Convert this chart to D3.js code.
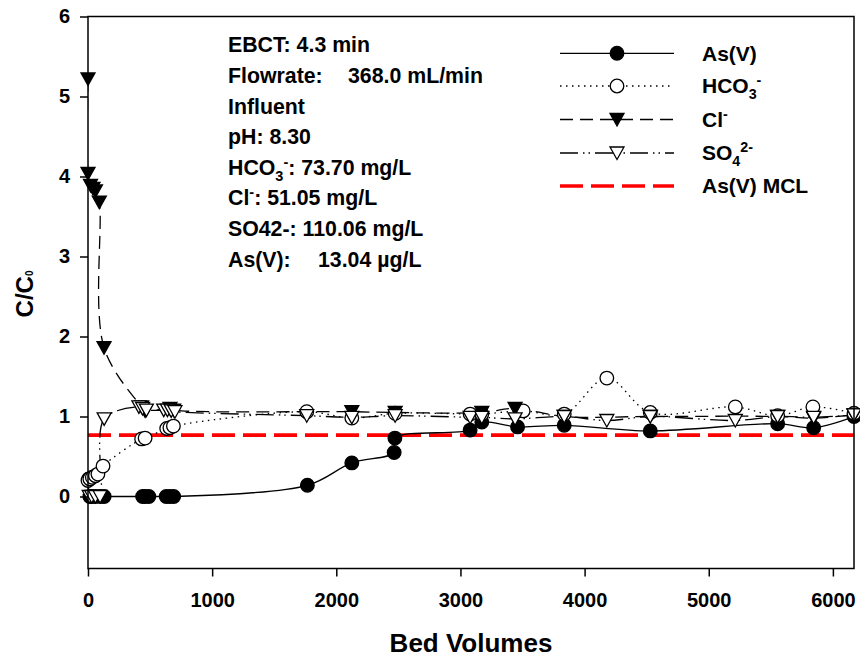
<!DOCTYPE html>
<html>
<head>
<meta charset="utf-8">
<script src="https://cdn.jsdelivr.net/npm/d3@7"></script>
<style>
  body { margin: 0; background: #fff; }
  svg { display: block; }
  text { font-family: "Liberation Sans", Arial, sans-serif; font-weight: bold; fill: #000; white-space: pre; }
</style>
</head>
<body>
<div id="chart"></div>
<script>
// ---- data ----
const xTicks = [0, 1000, 2000, 3000, 4000, 5000, 6000];
const yTicks = [0, 1, 2, 3, 4, 5, 6];

const asBV  = [5, 15, 30, 60, 100, 130, 440, 460, 490, 630, 660, 690, 1767, 2125, 2466, 2472, 3078, 3172, 3460, 3836, 4529, 5555, 5845, 6170];
const asVal = [0.22, 0, 0, 0, 0, 0, 0, 0, 0, 0, 0, 0, 0.14, 0.42, 0.55, 0.73, 0.83, 0.93, 0.87, 0.89, 0.82, 0.91, 0.86, 1.0];

const hcoBV  = [0, 15, 35, 60, 80, 121, 432, 460, 634, 660, 688, 1762, 2125, 2474, 3078, 3172, 3505, 3836, 4179, 4529, 5214, 5555, 5839, 6170];
const hcoVal = [0.2, 0.22, 0.24, 0.26, 0.28, 0.38, 0.72, 0.73, 0.85, 0.86, 0.88, 1.06, 0.98, 1.04, 1.03, 1.03, 1.07, 1.03, 1.48, 1.05, 1.12, 1.01, 1.12, 1.04];

const clBV  = [0, 0, 20, 40, 60, 91, 129, 432, 460, 660, 690, 2125, 2474, 3172, 3440, 3836, 4529, 5555, 5845, 6170];
const clVal = [5.22, 4.04, 3.89, 3.85, 3.82, 3.68, 1.86, 1.12, 1.07, 1.1, 1.08, 1.06, 1.05, 1.05, 1.1, 1.0, 1.0, 1.0, 0.98, 1.02];

const so4BV  = [10, 30, 60, 97, 130, 410, 440, 470, 610, 640, 670, 700, 1762, 2125, 2474, 3078, 3172, 3440, 3836, 4179, 4529, 5214, 5555, 5845, 6170];
const so4Val = [0, 0, 0, 0, 0.97, 1.12, 1.1, 1.08, 1.08, 1.08, 1.07, 1.06, 1.01, 0.99, 1.01, 0.99, 0.99, 0.97, 1.0, 0.95, 1.0, 0.95, 1.0, 0.99, 1.02];

const mclValue = 0.767;   // 10 ug/L over 13.04 ug/L influent

const infoLines = [
  [{t: "EBCT: 4.3 min"}],
  [{t: "Flowrate:"}, {t: "368.0 mL/min", x: 348}],
  [{t: "Influent"}],
  [{t: "pH: 8.30"}],
  [{t: "HCO"}, {t: "3", sub: true}, {t: "-", sup: true}, {t: ": 73.70 mg/L"}],
  [{t: "Cl"}, {t: "-", sup: true}, {t: ": 51.05 mg/L"}],
  [{t: "SO42-: 110.06 mg/L"}],
  [{t: "As(V):"}, {t: "13.04 \u00b5g/L", x: 318}]
];

// ---- chart ----
const svg = d3.select("#chart").append("svg")
  .attr("width", 860)
  .attr("height", 663);

const x = d3.scaleLinear().domain([0, 6170]).range([88, 854]);
const y = d3.scaleLinear().domain([-0.9, 6]).range([568.5, 16.5]);

const series = [
  {label: [{t: "As(V)"}], bv: asBV, val: asVal, dash: null, shape: "circle", fill: "#000"},
  {label: [{t: "HCO"}, {t: "3", sub: true}, {t: "-", sup: true}], bv: hcoBV, val: hcoVal, dash: "1.5,4.5", shape: "circle", fill: "#fff"},
  {label: [{t: "Cl"}, {t: "-", sup: true}], bv: clBV, val: clVal, dash: "13,7", shape: "tri", fill: "#000"},
  {label: [{t: "SO"}, {t: "4", sub: true}, {t: "2-", sup: true}], bv: so4BV, val: so4Val, dash: "18,5,1.5,4,1.5,5", shape: "tri", fill: "#fff"}
];

// writes text parts with sub/superscripts
function richText(sel, parts, size, subSize, subShift) {
  let shift = 0;
  parts.forEach(p => {
    const target = p.sub ? (subShift != null ? subShift : 6) : p.sup ? -8 : 0;
    const ts = sel.append("tspan")
      .attr("dy", target - shift)
      .style("font-size", (p.sub || p.sup) ? (subSize || size * 0.68) + "px" : size + "px")
      .text(p.t);
    if (p.x != null) ts.attr("x", p.x);
    shift = target;
  });
}

function drawMarker(g, shape, fill, cx, cy) {
  if (shape === "circle") {
    g.append("circle").attr("cx", cx).attr("cy", cy).attr("r", 6.8)
      .attr("fill", fill).attr("stroke", "#000").attr("stroke-width", 1.3);
  } else {
    g.append("path")
      .attr("d", "M-7,-6L7,-6L0,6.5Z")
      .attr("transform", `translate(${cx},${cy})`)
      .attr("fill", fill).attr("stroke", "#000").attr("stroke-width", 1.3)
      .attr("stroke-linejoin", "miter");
  }
}

svg.append("clipPath").attr("id", "plot-clip")
  .append("rect").attr("x", 88).attr("y", 16.5).attr("width", 766).attr("height", 552);

const plot = svg.append("g").attr("clip-path", "url(#plot-clip)");

// MCL line
plot.append("line")
  .attr("x1", x(0)).attr("x2", x(6170))
  .attr("y1", y(mclValue)).attr("y2", y(mclValue))
  .attr("stroke", "#ff0000").attr("stroke-width", 3.6)
  .attr("stroke-dasharray", "23,8");

const line = d3.line()
  .x(d => x(d[0]))
  .y(d => y(d[1]))
  .curve(d3.curveCatmullRom.alpha(0.5));

series.forEach(s => {
  const pts = s.bv.map((b, i) => [b, s.val[i]]);
  plot.append("path")
    .attr("d", line(pts))
    .attr("fill", "none")
    .attr("stroke", "#000")
    .attr("stroke-width", 1.3)
    .attr("stroke-dasharray", s.dash);
});

series.forEach(s => {
  const g = svg.append("g");
  s.bv.forEach((b, i) => drawMarker(g, s.shape, s.fill, x(b), y(s.val[i])));
});

// frame
svg.append("rect")
  .attr("x", 88).attr("y", 16.5).attr("width", 766).attr("height", 552)
  .attr("fill", "none").attr("stroke", "#000").attr("stroke-width", 1.5);

// axes
const xAxis = svg.append("g")
  .attr("transform", "translate(0,568.5)")
  .call(d3.axisBottom(x).tickValues(xTicks).tickSize(8).tickPadding(16).tickFormat(d3.format("d")));
const yAxis = svg.append("g")
  .attr("transform", "translate(88,0)")
  .call(d3.axisLeft(y).tickValues(yTicks).tickSize(8).tickPadding(10).tickFormat(d3.format("d")));

[xAxis, yAxis].forEach(a => {
  a.select(".domain").remove();
  a.selectAll(".tick line").attr("stroke", "#000").attr("stroke-width", 1.5);
  a.selectAll(".tick text").style("font-size", "20px").attr("font-family", null).attr("fill", "#000");
});

// axis titles
svg.append("text")
  .attr("x", 471).attr("y", 652)
  .attr("text-anchor", "middle")
  .style("font-size", "26px")
  .text("Bed Volumes");

const yTitle = svg.append("text")
  .attr("transform", "translate(33,294) rotate(-90)")
  .attr("text-anchor", "middle");
richText(yTitle, [{t: "C/C"}, {t: "0", sub: true}], 24, 10, 0);

// info block
infoLines.forEach((parts, i) => {
  const t = svg.append("text")
    .attr("x", 228)
    .attr("y", 52.3 + i * 30.6);
  richText(t, parts, 21.3);
});

// legend
const legendRows = [53.3, 86, 119.5, 153, 186];
series.forEach((s, i) => {
  const ly = legendRows[i];
  svg.append("line")
    .attr("x1", 560).attr("x2", 674).attr("y1", ly).attr("y2", ly)
    .attr("stroke", "#000").attr("stroke-width", 1.3)
    .attr("stroke-dasharray", s.dash);
  drawMarker(svg, s.shape, s.fill, 617, ly);
  const t = svg.append("text").attr("x", 702).attr("y", ly + 7.3);
  richText(t, s.label, 21);
});
svg.append("line")
  .attr("x1", 560).attr("x2", 674).attr("y1", legendRows[4]).attr("y2", legendRows[4])
  .attr("stroke", "#ff0000").attr("stroke-width", 3.6)
  .attr("stroke-dasharray", "23,8");
richText(svg.append("text").attr("x", 702).attr("y", legendRows[4] + 7.3), [{t: "As(V) MCL"}], 21);
</script>
</body>
</html>
